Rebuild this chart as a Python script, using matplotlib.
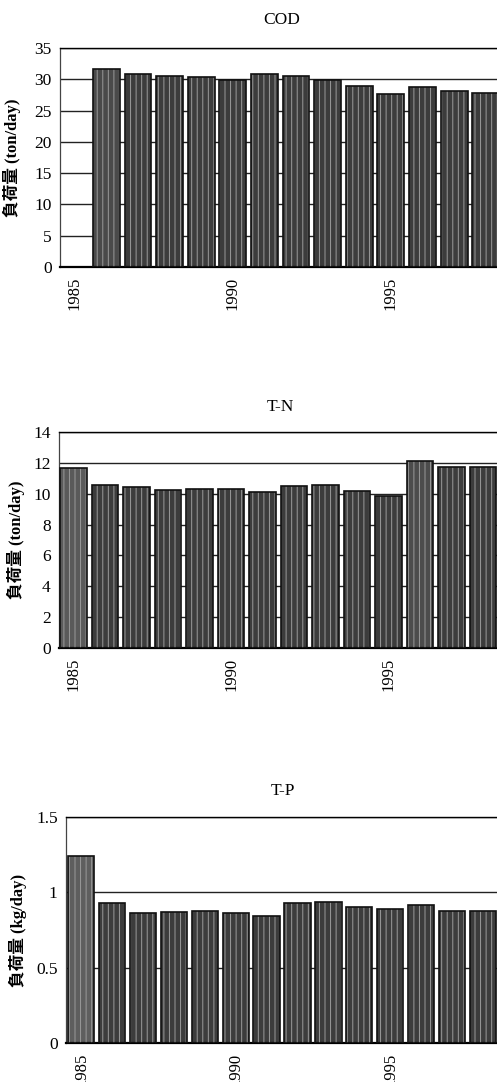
import numpy as np
import matplotlib
matplotlib.use("Agg")
import matplotlib.pyplot as plt

plt.rcParams['hatch.linewidth'] = 0.7

# ---- data ----
years = [str(y) for y in range(1985, 1999)]
cod = [np.nan, 31.6, 30.8, 30.6, 30.3, 29.9, 30.8, 30.5, 29.9, 28.9, 27.6, 28.8, 28.1, 27.8]
tn = [11.65, 10.56, 10.41, 10.24, 10.32, 10.30, 10.11, 10.48, 10.54, 10.20, 9.83, 12.14, 11.75, 11.75]
tp = [1.241, 0.927, 0.865, 0.867, 0.876, 0.865, 0.845, 0.927, 0.938, 0.903, 0.892, 0.918, 0.876, 0.876]

titles = ["COD", "T-N", "T-P"]
ylabels = ["負荷量 (ton/day)", "負荷量 (ton/day)", "負荷量 (kg/day)"]
yticks_list = [[0, 5, 10, 15, 20, 25, 30, 35],
               [0, 2, 4, 6, 8, 10, 12, 14],
               [0, 0.5, 1, 1.5]]
yticklabels_list = [["0", "5", "10", "15", "20", "25", "30", "35"],
                    ["0", "2", "4", "6", "8", "10", "12", "14"],
                    ["0", "0.5", "1", "1.5"]]
xtick_years = ["1985", "1990", "1995"]

W, H = 497, 1082
fig = plt.figure(figsize=(W / 100, H / 100), dpi=100)
fig.patch.set_facecolor("white")

# axes boxes in pixels: left, top, right, bottom
boxes = [(60, 48, 504, 267), (59, 432, 502, 648), (66, 817, 499, 1043)]
xlims = [(-0.47, 13.58), (-0.46, 13.6), (-0.49, 13.52)]
ylab_right = [21, 25, 27]
title_pads = [17, 15, 16]
series = [cod, tn, tp]
serif = ["Liberation Serif", "DejaVu Serif"]
lab_font = ["Liberation Serif", "Noto Sans CJK JP"]

for i, vals in enumerate(series):
    l, t, r, b = boxes[i]
    ax = fig.add_axes([l / W, 1 - b / H, (r - l) / W, (b - t) / H])
    x = np.arange(len(years))
    fc = ["#3c3c3c"] * len(years)
    if i == 1:
        fc[0] = "#5a5a5a"; fc[11] = "#4c4c4c"
    if i == 2:
        fc[0] = "#5e5e5e"
    if i == 0:
        fc[1] = "#4a4a4a"
    ax.bar(x, vals, width=0.85, color=fc, edgecolor="none", zorder=2)
    ax.bar(x, vals, width=0.85, color="none", edgecolor="#9a9a9a", hatch="|||", linewidth=0, zorder=3)
    ax.bar(x, vals, width=0.85, fill=False, edgecolor="#111111", linewidth=1.2, zorder=4)
    ax.set_xlim(*xlims[i])
    yt = yticks_list[i]
    ax.set_ylim(0, yt[-1])
    ax.set_yticks(yt)
    ax.set_yticklabels(yticklabels_list[i], fontfamily=serif, fontsize=12.5)
    ax.yaxis.grid(True, color="#222222", linewidth=1.0, zorder=1)
    ax.set_axisbelow(True)
    xt = [years.index(y) for y in xtick_years]
    ax.set_xticks(xt)
    ax.set_xticklabels(xtick_years, rotation=90, fontfamily=serif, fontsize=12)
    ax.tick_params(axis="both", length=0)
    ax.tick_params(axis="x", pad=7)
    ax.tick_params(axis="y", pad=6)
    ax.spines["right"].set_visible(False)
    ax.spines["top"].set_linewidth(1.0)
    ax.spines["left"].set_linewidth(0.9)
    ax.spines["left"].set_color("#444444")
    ax.spines["bottom"].set_linewidth(1.6)
    ax.set_title(titles[i], fontfamily=serif, fontsize=12.5, pad=title_pads[i])
    ax.set_ylabel(ylabels[i], fontfamily=lab_font, fontsize=12, fontweight="bold")
    ax.yaxis.set_label_coords((ylab_right[i] - l) / (r - l), 0.5)

fig.savefig("out.png", dpi=100, facecolor="white")
